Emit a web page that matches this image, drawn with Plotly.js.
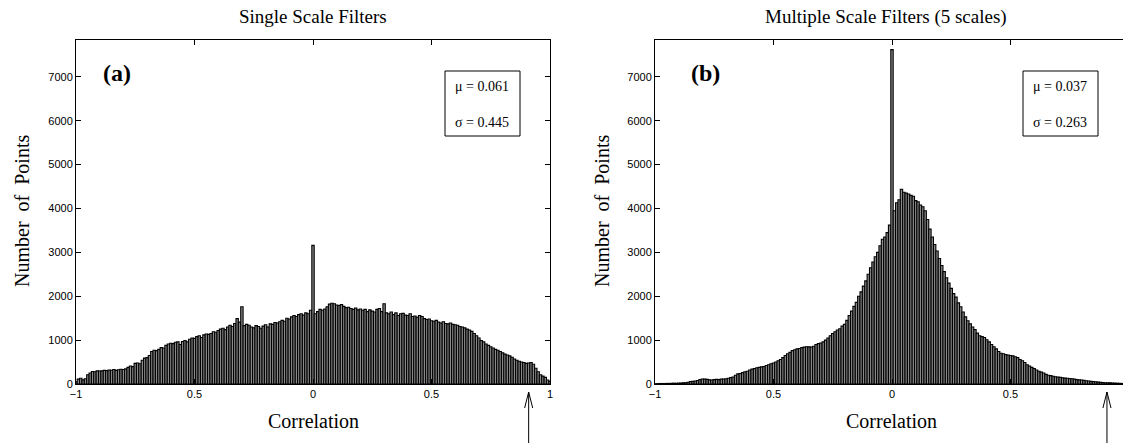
<!DOCTYPE html>
<html>
<head>
<meta charset="utf-8">
<script src="https://cdn.plot.ly/plotly-3.0.1.min.js"></script>
<style>
html,body{margin:0;padding:0;overflow:hidden;background:#fff;}
#chart{width:1135px;height:443px;}
</style>
</head>
<body>
<div id="chart"></div>
<script>
// Bin centres: -1.00 .. 1.00 in steps of 0.01 (201 bins)
const binStart = -1.0;
const binWidth = 0.01;
const binCount = 201;

// Panel (a) Single Scale Filters – counts per bin
const singleScaleCounts = [
  50, 110, 130, 95, 120, 210, 250, 285, 280, 300,
  295, 300, 310, 305, 320, 315, 330, 310, 325, 335,
  330, 345, 380, 410, 395, 470, 480, 460, 540, 590,
  600, 650, 740, 770, 760, 790, 830, 820, 880, 910,
  930, 920, 950, 960, 900, 970, 990, 960, 1020, 1050,
  1040, 1080, 1100, 1060, 1120, 1140, 1130, 1150, 1190, 1180,
  1220, 1250, 1270, 1240, 1300, 1340, 1310, 1380, 1490, 1410,
  1760, 1330, 1360, 1340, 1300, 1280, 1330, 1310, 1270, 1320,
  1350, 1300, 1370, 1360, 1400, 1390, 1420, 1450, 1430, 1500,
  1480, 1530, 1560, 1540, 1580, 1600, 1570, 1620, 1600, 1680,
  3160,
  1600, 1650, 1700, 1680, 1710, 1760, 1820, 1840, 1830, 1800,
  1790, 1810, 1770, 1740, 1750, 1720, 1700, 1730, 1690, 1710,
  1680, 1700, 1650, 1690, 1660, 1640, 1700, 1720, 1650, 1830,
  1620, 1600, 1640, 1580, 1620, 1560, 1600, 1610, 1570, 1560,
  1600, 1540, 1550, 1520, 1560, 1540, 1490, 1470, 1480, 1440,
  1430, 1450, 1410, 1390, 1420, 1380, 1370, 1390, 1360, 1350,
  1340, 1310, 1300, 1280, 1250, 1230, 1200, 1150, 1100, 1050,
  990, 960, 910, 880, 850, 820, 790, 770, 740, 710,
  680, 660, 640, 610, 570, 540, 520, 500, 490, 470,
  480, 490, 450, 360, 280, 210, 180, 150, 90, 60
];

// Panel (b) Multiple Scale Filters (5 scales) – counts per bin
const multiScaleCounts = [
  5, 8, 10, 12, 10, 14, 12, 15, 18, 16,
  20, 22, 25, 30, 40, 55, 60, 70, 80, 100,
  115, 110, 105, 95, 90, 100, 105, 100, 110, 115,
  120, 130, 145, 160, 200, 230, 240, 260, 280, 290,
  320, 340, 350, 370, 380, 390, 400, 420, 440, 460,
  480, 500, 530, 560, 600, 650, 690, 720, 760, 780,
  800, 810, 830, 840, 850, 845, 840, 860, 900, 920,
  935, 960, 1000, 1050, 1100, 1150, 1190, 1230, 1260, 1320,
  1360, 1450, 1560, 1660, 1770, 1860, 2000, 2100, 2230, 2350,
  2500, 2650, 2780, 2900, 3000, 3150, 3300, 3350, 3450, 3620,
  7620,
  3950, 4130, 4200, 4440, 4370, 4350, 4330, 4300, 4280, 4180,
  4150, 4080, 4040, 3950, 3750, 3530, 3350, 3180, 3030, 2860,
  2700, 2560, 2420, 2300, 2180, 2060, 1980, 1850, 1760, 1640,
  1530, 1440, 1370, 1300, 1240, 1160, 1100, 1080, 1060, 1010,
  960, 900, 850, 800, 740, 700, 690, 670, 660, 650,
  640, 620, 600, 560, 530, 490, 440, 410, 380, 350,
  320, 290, 270, 250, 220, 200, 190, 175, 165, 160,
  150, 140, 135, 130, 125, 120, 110, 100, 95, 90,
  85, 75, 70, 60, 55, 50, 42, 38, 35, 30,
  28, 25, 22, 20, 18, 15, 12, 10, 10, 8
];

const xTickVals = [-1, -0.5, 0, 0.5, 1];
const xTickTextA = ['\u22121', '0.5', '0', '0.5', '1'];
const xTickTextB = ['\u22121', '0.5', '0', '0.5', ''];
const yTickVals = [0, 1000, 2000, 3000, 4000, 5000, 6000, 7000];

const panelTitles = ['Single Scale Filters', 'Multiple Scale Filters (5 scales)'];
const panelLabels = ['(a)', '(b)'];
const muText = ['\u03bc = 0.061', '\u03bc = 0.037'];
const sigmaText = ['\u03c3 = 0.445', '\u03c3 = 0.263'];
const arrowX = [0.91, 0.907];

const binCenters = [];
for (let i = 0; i < binCount; i++) binCenters.push(Math.round((binStart + i * binWidth) * 100) / 100);

const W = 1135, H = 443;
const fx = p => p / W;
const fy = p => 1 - p / H;

const barStyle = {color: '#8a8a8a', line: {color: '#000', width: 1.1}};

const traces = [
  {type: 'bar', x: binCenters, y: singleScaleCounts, width: binWidth, marker: barStyle,
   xaxis: 'x', yaxis: 'y', hoverinfo: 'x+y'},
  {type: 'bar', x: binCenters, y: multiScaleCounts, width: binWidth, marker: barStyle,
   xaxis: 'x2', yaxis: 'y2', hoverinfo: 'x+y'}
];

const tickFont = {family: 'Liberation Sans, Arial, sans-serif', size: 11, color: '#000'};
function xAxis(domain, anchor, ticktext) {
  return {domain: domain, anchor: anchor, range: [-1, 1], tickvals: xTickVals, ticktext: ticktext,
    ticks: 'inside', ticklen: 5, tickcolor: '#000', showline: true, linecolor: '#000', linewidth: 1,
    mirror: 'ticks', showgrid: false, zeroline: false, tickfont: tickFont, fixedrange: true};
}
function yAxis(anchor) {
  return {domain: [fy(384), fy(40)], anchor: anchor, range: [0, 7840], tickvals: yTickVals,
    ticks: 'inside', ticklen: 5, tickcolor: '#000', showline: true, linecolor: '#000', linewidth: 1,
    mirror: 'ticks', showgrid: false, zeroline: false, tickfont: tickFont, fixedrange: true};
}

const serif = 'Liberation Serif, Times New Roman, serif';
const annotations = [];
const shapes = [];
const panels = [
  {cx: 313, title: panelTitles[0], titleX: 313, ylabX: 22, labX: 117, boxL: 445, boxR: 520, xref: 'x'},
  {cx: 891, title: panelTitles[1], titleX: 886, ylabX: 602, labX: 705, boxL: 1023, boxR: 1098, xref: 'x2'}
];
panels.forEach((p, i) => {
  annotations.push({text: p.title, xref: 'paper', yref: 'paper', x: fx(p.titleX), y: fy(17),
    xanchor: 'center', yanchor: 'middle', showarrow: false, font: {family: serif, size: 19, color: '#000'}});
  annotations.push({text: 'Correlation', xref: 'paper', yref: 'paper', x: fx(p.cx), y: fy(421),
    xanchor: 'center', yanchor: 'middle', showarrow: false, font: {family: serif, size: 20, color: '#000'}});
  annotations.push({text: 'Number  of  Points', xref: 'paper', yref: 'paper', x: fx(p.ylabX), y: fy(211),
    xanchor: 'center', yanchor: 'middle', textangle: -90, showarrow: false, font: {family: serif, size: 20, color: '#000'}});
  annotations.push({text: '<b>' + panelLabels[i] + '</b>', xref: 'paper', yref: 'paper', x: fx(p.labX), y: fy(73),
    xanchor: 'center', yanchor: 'middle', showarrow: false, font: {family: serif, size: 24, color: '#000'}});
  annotations.push({text: muText[i], xref: 'paper', yref: 'paper', x: fx(p.boxR - 9), y: fy(87),
    xanchor: 'right', yanchor: 'middle', showarrow: false, font: {family: serif, size: 14, color: '#000'}});
  annotations.push({text: sigmaText[i], xref: 'paper', yref: 'paper', x: fx(p.boxR - 9), y: fy(123),
    xanchor: 'right', yanchor: 'middle', showarrow: false, font: {family: serif, size: 14, color: '#000'}});
  shapes.push({type: 'rect', xref: 'paper', yref: 'paper', x0: fx(p.boxL), x1: fx(p.boxR), y0: fy(136), y1: fy(71),
    line: {color: '#000', width: 1}, fillcolor: 'rgba(0,0,0,0)'});
  // arrow shaft
  shapes.push({type: 'line', xref: p.xref, yref: 'paper', x0: arrowX[i], x1: arrowX[i], y0: fy(443), y1: fy(392),
    line: {color: '#000', width: 1}});
  // open arrow head
  shapes.push({type: 'line', xref: p.xref, yref: 'paper', x0: arrowX[i] - 0.017, x1: arrowX[i], y0: fy(408), y1: fy(392),
    line: {color: '#000', width: 1}});
  shapes.push({type: 'line', xref: p.xref, yref: 'paper', x0: arrowX[i] + 0.017, x1: arrowX[i], y0: fy(408), y1: fy(392),
    line: {color: '#000', width: 1}});
});

const layout = {
  width: W, height: H,
  margin: {l: 0, r: 0, t: 0, b: 0},
  paper_bgcolor: '#fff', plot_bgcolor: '#fff',
  showlegend: false, bargap: 0,
  xaxis: xAxis([fx(76), fx(550)], 'y', xTickTextA),
  yaxis: yAxis('x'),
  xaxis2: xAxis([fx(655), fx(1129)], 'y2', xTickTextB),
  yaxis2: yAxis('x2'),
  annotations: annotations,
  shapes: shapes
};

Plotly.newPlot('chart', traces, layout, {displayModeBar: false, staticPlot: true});
</script>
</body>
</html>
